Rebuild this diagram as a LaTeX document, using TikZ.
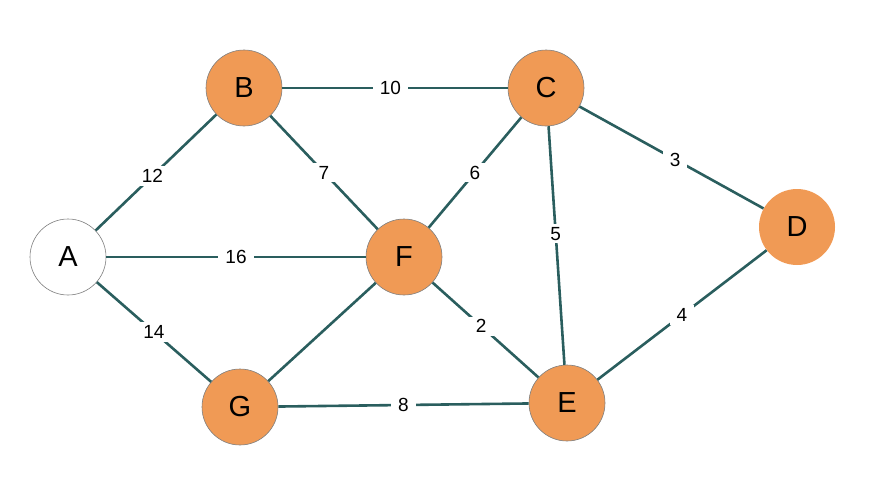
\documentclass[tikz,border=0pt]{standalone}
\usepackage{fontspec}
\setmainfont{Liberation Sans}
\usepackage{xcolor}
\usepackage{tikz}
\definecolor{teal}{HTML}{2A5E5E}
\definecolor{orange}{HTML}{F09A55}
\definecolor{rim}{HTML}{7F7F7F}

\begin{document}
\begin{tikzpicture}[x=1pt,y=-1pt,
  vertex/.style={circle,draw=rim,semithick,fill=orange,minimum size=76pt,inner sep=0pt,font=\fontsize{29}{29}\selectfont},
  start/.style={vertex,fill=white},
  edge/.style={draw=teal,line width=2.6pt},
  weight/.style={fill=white,inner xsep=7pt,inner ysep=3pt,font=\fontsize{19}{19}\selectfont}]
  \useasboundingbox (0,0) rectangle (874,487);
  \node[start] (A) at (68,257) {A};
  \node[vertex] (B) at (244,88) {B};
  \node[vertex] (C) at (546,88) {C};
  \node[vertex,draw=none] (D) at (797,227) {D};
  \node[vertex] (F) at (404,257) {F};
  \node[vertex] (G) at (240,407) {G};
  \node[vertex] (E) at (567,403) {E};

  \path[edge] (A)--node[weight,pos=0.47]{12} (B);
  \path[edge] (B)--node[weight,pos=0.48]{10} (C);
  \path[edge] (B)--node[weight]{7} (F);
  \path[edge] (F)--node[weight]{6} (C);
  \path[edge] (C)--node[weight,pos=0.52]{3} (D);
  \path[edge] (C)--node[weight,pos=0.45]{5} (E);
  \path[edge] (A)--node[weight]{16} (F);
  \path[edge] (F)--node[weight,pos=0.46]{2} (E);
  \path[edge] (E)--node[weight]{4} (D);
  \path[edge] (A)--node[weight]{14} (G);
  \path[edge] (G)--(F);
  \path[edge] (G)--node[weight]{8} (E);
\end{tikzpicture}
\end{document}
